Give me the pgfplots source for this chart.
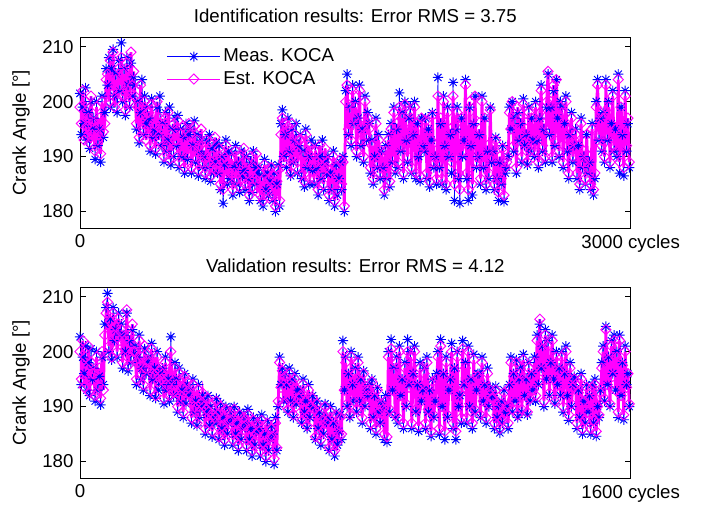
\documentclass[border=0pt]{standalone}
\usepackage{fontspec}
\setmainfont{Liberation Sans}
\usepackage{pgfplots}
\usepackage{pgfplotstable}
\pgfplotsset{compat=1.18}

\definecolor{mblue}{RGB}{0,0,255}
\definecolor{mmag}{RGB}{255,0,255}

% MATLAB style '*' marker: a plus and a cross
\pgfdeclareplotmark{mstar}{%
  \pgfpathmoveto{\pgfqpoint{-\pgfplotmarksize}{0pt}}\pgfpathlineto{\pgfqpoint{\pgfplotmarksize}{0pt}}%
  \pgfpathmoveto{\pgfqpoint{0pt}{-\pgfplotmarksize}}\pgfpathlineto{\pgfqpoint{0pt}{\pgfplotmarksize}}%
  \pgfpathmoveto{\pgfqpoint{-.707\pgfplotmarksize}{-.707\pgfplotmarksize}}\pgfpathlineto{\pgfqpoint{.707\pgfplotmarksize}{.707\pgfplotmarksize}}%
  \pgfpathmoveto{\pgfqpoint{-.707\pgfplotmarksize}{.707\pgfplotmarksize}}\pgfpathlineto{\pgfqpoint{.707\pgfplotmarksize}{-.707\pgfplotmarksize}}%
  \pgfusepathqstroke}

\pgfplotsset{
  koca/.style={
    width=413pt, height=143pt, scale only axis,
    ymin=177, ymax=211.7,
    ytick={180,190,200,210},
    /pgf/number format/assume math mode=true,
    axis line style={black, line width=0.5pt},
    tick style={black, line width=0.5pt},
    ylabel={Crank Angle [°]},
  },
  meas/.style={mblue, line width=0.5pt, mark=mstar, mark size=3.8pt, mark options={solid, line width=0.7pt}},
  est/.style={mmag, line width=2.1pt, mark=square, mark size=2.7pt, mark options={solid, rotate=45, line width=0.7pt}},
}

% identification data, one value every 7.5 cycles
\pgfplotstableread[row sep=\\]{y\\
201.5\\194\\199\\196\\202.5\\193\\198\\191.5\\200\\195\\
197\\189.5\\200\\192\\195\\189\\201\\193.5\\198\\206\\
203\\208\\199\\206\\209.5\\201\\205\\198\\207.5\\202\\
210.7\\200\\206\\197.5\\208\\203\\199\\207\\201\\204.5\\
203\\195\\200\\192.5\\198\\204\\194\\201\\196\\199\\
197\\191\\200.5\\193.5\\195\\190.5\\199\\194\\201\\192\\
196\\189\\198\\191\\193\\199\\188.5\\195\\190\\197\\
192\\197.5\\188\\195\\190\\193.5\\187\\196\\189.5\\194\\
195\\187\\192\\196.5\\189\\194\\186.5\\191\\193\\188\\
190\\186\\193\\188\\194\\185.5\\191.5\\187\\189\\192.5\\
187\\192\\184\\190\\181.5\\188.5\\193\\185\\191\\186\\
190.5\\183\\188\\192\\185\\189\\183.5\\191\\186.5\\187.5\\
184\\190\\186\\182\\189\\183.5\\191\\185\\188\\187\\
188\\182\\186.5\\181\\189.5\\184\\187\\183\\185.5\\188.5\\
182\\187\\180\\185\\188.5\\181\\196\\198.5\\190\\194\\
188\\197\\191\\186.5\\195\\189\\193\\196\\187\\192\\
194\\186\\191\\184.5\\195\\188\\190\\185\\193\\187.5\\
185\\192\\188\\183\\190\\186\\193\\184\\189\\187\\
190\\182\\187\\184\\191\\181\\188.5\\183\\186\\189\\
184\\190\\180\\202\\205\\194\\199\\192\\203\\196\\
200\\190\\197\\203\\192\\195\\189\\201\\193\\198\\
196\\187\\193\\185\\190\\197\\188\\194\\186\\191\\
188\\183\\192\\186\\194\\184.5\\196\\189\\199\\187\\
195\\188\\201.6\\191\\198\\186\\200\\193\\189\\197\\
199\\187\\194\\200\\186\\196\\190\\185.5\\197\\192\\
191\\197\\186\\195\\184.5\\193\\198\\188\\190\\185\\
204.4\\188\\196\\185\\201\\192\\184\\199\\190\\194\\
187\\203.5\\182\\195\\199\\186\\181.5\\197\\190\\193\\
204\\186\\182\\199\\192\\183\\196\\201\\188\\190\\
194\\185\\201\\188\\197\\184\\191\\186\\199\\189\\
191\\184\\193.5\\186\\182\\189\\185\\192\\181.8\\187\\
188\\190\\199\\195\\200\\191\\197\\187\\198\\193\\
196\\189\\200.5\\192\\194\\188.5\\199\\191\\197\\193\\
190\\200\\193\\188\\197\\203\\191\\195\\189\\199\\
205\\194\\199\\189\\202\\192\\204\\197\\190\\200\\
199\\188\\196\\201\\191\\186\\194\\198\\189\\192\\
195\\186\\192\\184\\197\\188\\190\\185\\194\\187\\
189\\184\\196\\183\\186\\200\\204\\193\\197\\191\\
198\\189\\204\\193\\200\\188\\196\\202\\191\\195\\
190\\205\\187\\199\\194\\186.5\\202\\191\\196\\188\\
}\idmeas

\pgfplotstableread[row sep=\\]{y\\
199\\196\\202\\193\\200\\195.5\\197\\192.5\\201\\194\\
195\\191\\199\\193\\197\\190.5\\200\\194.5\\196\\204\\
205\\200\\207.5\\202\\209\\199\\204\\200.5\\206\\203\\
208\\201\\205\\198.5\\207\\202\\200\\209\\203\\205.5\\
201\\196\\199\\193.5\\203\\197\\195\\200\\193\\198\\
198\\192\\199.5\\194.5\\196\\191.5\\200\\193\\197\\195\\
195\\190\\197\\192\\198\\189.5\\194\\191\\196\\193\\
193\\196.5\\189\\194\\191\\195.5\\188\\192\\190.5\\196\\
194\\188\\191\\195.5\\190\\193\\187.5\\192\\195\\189\\
191\\187\\193\\189\\192.5\\186.5\\190\\188\\193.5\\187.5\\
188\\191.5\\185\\189.5\\184\\190\\192\\186\\189\\187\\
189.5\\184\\187\\191\\186\\190\\184.5\\188.5\\186\\191.5\\
185\\189\\187\\183\\190\\184.5\\188\\186\\190.5\\183.5\\
187\\183\\185.5\\182\\188.5\\184.5\\187.5\\182.5\\186\\188\\
183\\186.5\\181\\185.5\\187.5\\182\\194\\197\\189\\196\\
190\\195.5\\192\\187\\196\\188.5\\194\\191\\189\\193\\
193\\187\\190\\185.5\\194\\189\\192\\186\\191\\188.5\\
186\\191\\189\\184\\192\\187\\190\\185\\191.5\\188\\
189\\183\\187.5\\185\\190\\182\\188\\184\\186.5\\189.5\\
185\\189\\181\\200\\203\\195\\198\\193\\202\\197\\
199\\191\\196\\202\\193\\195.5\\190\\200\\194\\197\\
195\\188\\192\\186\\190.5\\196\\189\\193\\187\\191\\
189\\184\\191\\187\\193\\185.5\\195\\190\\198\\188\\
196\\189\\199\\192\\197\\187\\199.5\\194\\190\\195\\
198\\188\\195\\199\\187\\196\\191\\186.5\\197\\193\\
192\\196.5\\187\\195\\185.5\\193\\197.5\\189\\191\\186\\
201\\189\\197\\186\\200\\193\\185\\198\\191\\195\\
189\\201\\185\\196\\198\\187\\184\\197\\191\\193\\
203\\187\\184\\200\\193\\185\\197\\201\\189\\191\\
195\\186\\200\\189\\197\\185\\192\\187\\198.5\\190\\
192\\185\\193\\187\\183.5\\190\\186\\191.5\\183\\188\\
189\\190\\198\\195\\200\\192\\196\\188\\199\\194\\
197\\190\\199.5\\192.5\\195\\189\\198\\191\\197\\193.5\\
191\\199\\194\\189\\198\\202\\192\\196\\190\\200\\
205.5\\195\\200\\190\\203\\193\\204\\197\\191\\199\\
198\\189\\196\\200\\192\\187\\195\\197\\190\\193\\
194\\187\\192\\185\\196\\189\\191\\186\\194\\188\\
190\\185\\195\\184\\187\\199\\203\\194\\198\\192\\
197\\190\\203\\194\\199\\189\\196\\201\\192\\195\\
191\\204\\189\\199\\195\\188\\201\\192\\197\\189\\
}\idest

% validation data, one value every 4 cycles
\pgfplotstableread[row sep=\\]{y\\
202.7\\194\\199\\196\\201\\193\\198\\192\\200.5\\195\\
197\\191\\200\\193\\195.5\\190.3\\199\\194\\205\\208\\
210.6\\200\\206\\198.5\\208\\202\\204\\199\\207\\203\\
205\\197\\203\\200\\207\\196.5\\202\\198\\204\\199.5\\
201\\194\\199\\203\\195\\197\\193\\200.5\\196\\198\\
199\\192\\201.5\\195\\197\\191.5\\200\\193\\196\\194\\
197\\190.5\\199\\193\\195\\191\\202.7\\194\\192\\198\\
195\\189\\197\\191\\193\\188\\196\\190.5\\194\\192\\
193\\187\\195\\189\\191\\186.5\\194\\188\\190\\192\\
191\\185\\189\\192\\186.5\\190\\184.5\\188\\187\\191.5\\
189\\184\\190.6\\186\\188\\183\\190\\185\\187\\189.5\\
188\\183\\190\\185\\187\\182\\189\\184\\186\\188.5\\
187\\182\\189.5\\184\\186\\181\\188\\183\\185.5\\187.5\\
186\\181\\188.5\\183\\185\\180\\187.5\\182\\184\\186.5\\
185\\179.5\\188\\182\\190\\199\\194\\197\\191\\196\\
194\\189\\197\\191\\195\\188\\196\\190.5\\193\\192\\
193\\187\\195\\189\\191\\186\\194\\188\\190\\192\\
190\\184\\191\\186\\189\\183\\188\\185\\190.5\\187\\
188\\182\\190\\184\\187\\181\\189\\183\\185.5\\188.5\\
184\\202\\193\\199\\190\\196\\188\\200\\194\\191\\
197\\189\\199\\191\\195\\187\\196.5\\190\\193\\192\\
194\\186\\195\\188\\192\\185\\193.5\\189\\187\\191\\
190\\184\\192\\183.5\\200\\189\\202.2\\193\\197\\188\\
199\\187\\201\\192\\195\\186\\198\\190\\202.2\\194\\
200\\186\\196\\201\\189\\194\\185.5\\198\\191\\193\\
197\\186\\199\\189\\193\\184.6\\195\\188\\191\\196\\
200\\185\\202.2\\190\\196\\184\\199\\188\\193\\195\\
201.5\\186\\197\\184\\200\\190\\192\\187\\202\\194\\
198\\187\\201\\190\\195\\186\\199.5\\189\\193\\196\\
196\\188\\199\\191\\194\\187\\197\\190\\193.5\\192\\
192\\186\\193.7\\188\\190\\185.2\\191\\187\\193\\189\\
190\\186\\194\\199\\189\\196\\191\\198.5\\188\\195\\
197\\189\\199.5\\192\\195\\188.5\\198\\191\\196\\193\\
199\\191\\203\\194\\205\\197\\201\\190\\204\\195\\
202\\192\\198\\203\\195\\190.5\\200\\194\\197\\192\\
200\\189\\196\\201\\192\\187.5\\198\\190\\194\\195.5\\
195\\186\\193\\188\\196\\185\\191\\187\\194\\189\\
192\\185\\194\\187\\195\\184.6\\190\\188\\193\\198\\
201\\191\\204.6\\194\\199\\190\\202\\196\\203\\193\\
200\\188\\203\\192\\198\\187.6\\201\\194\\196\\190\\
}\valmeas

\pgfplotstableread[row sep=\\]{y\\
200\\195\\202\\193.5\\199\\194\\201\\192.5\\198\\196\\
196\\192\\199\\194\\197\\191.5\\200\\193\\203\\207\\
209\\201\\205.5\\199\\207\\203\\204.5\\200\\206\\202\\
204\\198\\202\\200.5\\207.6\\197.5\\203\\199\\205\\200\\
200\\195\\198\\202\\196\\199\\194\\201\\197\\198.5\\
198\\193\\200.5\\196\\197.5\\192\\199\\194.5\\196.5\\195\\
196\\191.5\\198\\194\\195.5\\192\\200\\193\\192.5\\197\\
194\\190\\196\\192\\193.5\\189\\195.5\\191\\194.5\\192.5\\
192\\188\\194\\190\\191.5\\187\\193\\189\\190.5\\192.5\\
190\\186\\189.5\\191.5\\187\\190.5\\185.5\\188.5\\188\\191\\
188.5\\184.5\\190\\186.5\\188\\184\\189.5\\185.5\\187.5\\189\\
187.5\\184\\189.5\\185.5\\187\\183\\188.5\\184.5\\186.5\\188\\
186.5\\183\\188.5\\184.5\\186\\182\\187.5\\183.5\\185\\187\\
185.5\\182\\187.5\\183.5\\185\\181\\187\\182.5\\184.5\\186\\
184.5\\180.5\\187\\182.5\\191\\198\\193.5\\196.5\\190.5\\195.5\\
193.5\\189.5\\196\\191.5\\194.5\\188.5\\195\\190\\193\\191.5\\
192\\187.5\\194\\189.5\\191\\186.5\\193\\188.5\\190\\191.5\\
189.5\\184.5\\190.5\\186.5\\188.5\\184\\187.5\\185.5\\190\\187\\
187.5\\182.5\\189\\184.5\\186.5\\182\\188.5\\183.5\\185\\188\\
185\\200\\193\\198\\190.5\\195.5\\188.5\\199\\193.5\\191\\
196\\189.5\\198\\191\\194.5\\188\\196\\190.5\\193\\192\\
193\\187\\194.5\\188.5\\191.5\\186\\193\\189\\187.5\\190.5\\
189.5\\185\\191\\184.5\\199\\189.5\\200.5\\193\\196\\188.5\\
198\\188\\200\\192\\194.5\\187\\197\\190.5\\200\\193.5\\
199\\187\\195.5\\200\\189.5\\193.5\\186.5\\197\\191\\192.5\\
196\\187\\198\\189.5\\192.5\\185.5\\194.5\\188.5\\191\\195\\
199\\186\\201\\190\\195.5\\185.5\\198\\188.5\\193\\194.5\\
200\\187\\196.5\\185.5\\199\\190\\192.5\\188\\200.5\\193.5\\
197\\188\\200\\190.5\\194.5\\187\\198.5\\189.5\\193\\195.5\\
195\\188.5\\198\\191\\193.5\\188\\196\\190.5\\193\\191.5\\
191.5\\187\\193\\188.5\\190\\186\\190.5\\187.5\\192.5\\189\\
190\\187\\193.5\\198\\189.5\\195.5\\191\\198\\188.5\\194.5\\
196\\189.5\\198.5\\192\\194.5\\189\\197\\191.5\\195.5\\193\\
198\\192\\202\\194.5\\205.9\\196.5\\200.5\\191\\203\\195\\
201\\192.5\\197.5\\202\\195\\191\\199\\194\\196.5\\192.5\\
199\\190\\195.5\\200\\192\\188.5\\197\\190.5\\193.5\\195\\
194\\187\\192.5\\188.5\\195\\186\\191\\187.5\\193.5\\189\\
191.5\\186\\193.5\\187.5\\194\\185.5\\190\\188.5\\192.5\\197\\
200\\191.5\\204\\194\\198.5\\190.5\\201\\195.5\\202\\193\\
199\\189\\202\\192\\197.5\\188.5\\200\\193.5\\196\\190.5\\
}\valest

\begin{document}
\fontsize{14}{16}\selectfont
\begin{tikzpicture}
\path[use as bounding box] (-60pt,-22.5pt) rectangle (470.25pt,358.5pt);

% ---------- identification ----------
\begin{axis}[koca,
  at={(0pt,187.5pt)}, anchor=south west,
  title={Identification results: Error RMS = 3.75},
  xmin=0, xmax=3000,
  xtick={0,3000}, xticklabels={0,3000 cycles},
  legend style={draw=none, fill=none, at={(0.15,0.97)}, anchor=north west, row sep=1pt},
  legend cell align=left,
  legend image code/.code={\draw[line width=0.6pt, mark repeat=2, mark phase=2] plot coordinates {(0cm,0cm) (0.7cm,0cm) (1.4cm,0cm)};},
]
\addplot[meas] table[x expr=\coordindex*7.5, y=y] {\idmeas};
\addlegendentry{Meas. KOCA}
\addplot[est] table[x expr=\coordindex*7.5, y=y] {\idest};
\addlegendentry{Est. KOCA}
\end{axis}

% ---------- validation ----------
\begin{axis}[koca,
  at={(0pt,0pt)}, anchor=south west,
  title={Validation results: Error RMS = 4.12},
  xmin=0, xmax=1600,
  xtick={0,1600}, xticklabels={0,1600 cycles},
]
\addplot[meas] table[x expr=\coordindex*4, y=y] {\valmeas};
\addplot[est] table[x expr=\coordindex*4, y=y] {\valest};
\end{axis}
\end{tikzpicture}
\end{document}
